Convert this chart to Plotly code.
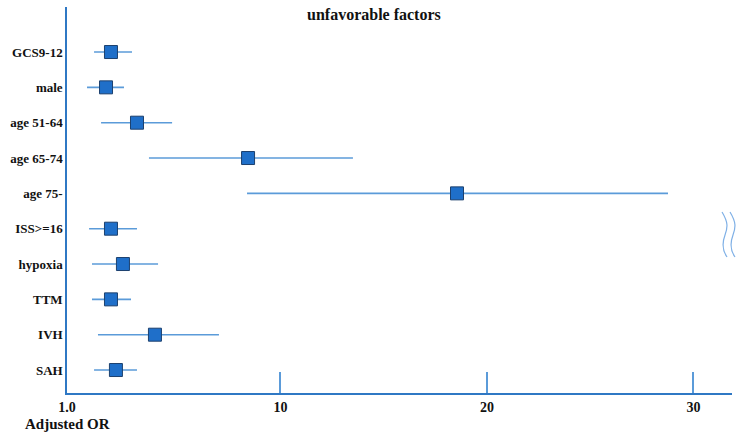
import plotly.graph_objects as go

# ---- data ----
factors = ["GCS9-12", "male", "age 51-64", "age 65-74", "age 75-",
           "ISS>=16", "hypoxia", "TTM", "IVH", "SAH"]
odds_ratio = [1.79, 1.55, 3.05, 8.43, 18.55, 1.79, 2.37, 1.79, 3.92, 2.03]
ci_low = [0.97, 0.63, 1.31, 3.63, 8.38, 0.73, 0.87, 0.87, 1.16, 0.97]
ci_high = [2.81, 2.42, 4.75, 13.51, 28.77, 3.05, 4.07, 2.76, 7.02, 3.05]
x_min, x_max = -0.34, 31.87
tick_values = [x_min, 10, 20, 30]
tick_labels = ["1.0", "10", "20", "30"]

err_plus = [h - m for h, m in zip(ci_high, odds_ratio)]
err_minus = [m - l for m, l in zip(odds_ratio, ci_low)]

FONT = "Liberation Serif"
AX = "#2f78c4"

fig = go.Figure()
fig.add_trace(go.Scatter(
    x=odds_ratio, y=list(range(len(factors))),
    mode="markers",
    marker=dict(symbol="square", size=13, color="#1f6fc9",
                line=dict(color="#1d416e", width=1)),
    error_x=dict(type="data", array=err_plus, arrayminus=err_minus,
                 color="#5b9bd9", thickness=1.6, width=0),
    showlegend=False, hoverinfo="skip",
))

fig.update_layout(
    width=743, height=437,
    margin=dict(l=67, r=11, t=7, b=44, autoexpand=False),
    plot_bgcolor="white", paper_bgcolor="white",
    font=dict(family=FONT, color="#111111"),
    xaxis=dict(range=[x_min, x_max], tickvals=tick_values, ticktext=tick_labels,
               showgrid=False, zeroline=False, showline=True, linecolor=AX,
               linewidth=1.5, ticks="inside", ticklen=21, tickcolor="#5b9bd9",
               tickwidth=1.5, automargin=False,
               tickfont=dict(family=FONT, size=14, color="#111111", weight="bold")),
    yaxis=dict(range=[9.65, -1.274], tickvals=list(range(len(factors))),
               ticktext=factors, showgrid=False, zeroline=False,
               showline=True, linecolor=AX, linewidth=1.5, ticks="",
               ticklabelstandoff=0, automargin=False,
               tickfont=dict(family=FONT, size=13, color="#111111", weight="bold")),
    annotations=[
        dict(text="<b>unfavorable factors</b>", xref="paper", yref="paper",
             x=(374 - 67) / 665, y=(393 - 15) / 386, xanchor="center",
             yanchor="middle", showarrow=False,
             font=dict(family=FONT, size=16, color="#111111")),
        dict(text="<b>Adjusted OR</b>", xref="paper", yref="paper",
             x=0, y=(393 - 424) / 386, xanchor="center", yanchor="middle",
             showarrow=False, font=dict(family=FONT, size=15, color="#111111")),
    ],
)

# break symbol (two wavy lines) drawn in paper space
def px(x, y):
    return f"{(x - 67) / 665:.4f},{(393 - y) / 386:.4f}"

for dx in (0, 8):
    x0 = 722 + dx
    path = (f"M {px(x0, 212)} C {px(x0 + 6, 222)} {px(x0 + 6, 227)} {px(x0 + 3, 235)} "
            f"C {px(x0, 243)} {px(x0, 250)} {px(x0 + 5, 257)}")
    fig.add_shape(type="path", path=path, xref="paper", yref="paper",
                  line=dict(color="#7fb0e6", width=1.2))

fig.write_html("out.html")
